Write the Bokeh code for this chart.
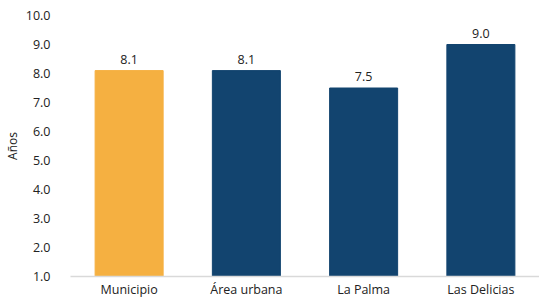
from bokeh.plotting import figure
from bokeh.models import ColumnDataSource, Range1d, SingleIntervalTicker, CustomJSTickFormatter
from bokeh.core.properties import value
from bokeh.embed import file_html
from bokeh.resources import INLINE

categories = ["Municipio", "Área urbana", "La Palma", "Las Delicias"]
values = [8.1, 8.1, 7.5, 9.0]
colors = ["#F5B041", "#12446F", "#12446F", "#12446F"]
labels = [f"{v:.1f}" for v in values]

FONT = "Open Sans"
src = ColumnDataSource(dict(cat=categories, val=values, color=colors, lab=labels))

p = figure(x_range=categories, width=539, height=300, output_backend="svg",
           toolbar_location=None, min_border_left=60, min_border_right=0,
           min_border_top=15, min_border_bottom=0)
p.y_range = Range1d(1.0, 10.0)
p.vbar(x="cat", top="val", bottom=1.0, width=0.58, color="color", source=src)
p.text(x="cat", y="val", text="lab", source=src, text_align="center",
       text_baseline="bottom", y_offset=-7, text_font=value(FONT),
       text_font_size="12.5px", text_color="#222222")

p.outline_line_color = None
p.xgrid.grid_line_color = None
p.ygrid.grid_line_color = None
p.background_fill_color = "white"
p.border_fill_color = "white"

p.yaxis.ticker = SingleIntervalTicker(interval=1.0)
p.yaxis.formatter = CustomJSTickFormatter(code="return tick.toFixed(1);")
p.yaxis.axis_line_color = None
p.yaxis.major_tick_line_color = None
p.yaxis.minor_tick_line_color = None
p.yaxis.major_label_standoff = 14
p.yaxis.axis_label = "Años"
p.yaxis.axis_label_standoff = 2
p.yaxis.axis_label_text_font = FONT
p.yaxis.axis_label_text_font_style = "normal"
p.yaxis.axis_label_text_font_size = "12px"
p.yaxis.axis_label_text_color = "#222222"

p.xaxis.axis_line_color = "#d9d9d9"
p.xaxis.axis_line_width = 1.5
p.xaxis.major_tick_line_color = None
p.xaxis.minor_tick_line_color = None
p.xaxis.major_label_standoff = -2

for ax in (p.xaxis, p.yaxis):
    ax.major_label_text_font = FONT
    ax.major_label_text_font_size = "12.5px"
    ax.major_label_text_color = "#222222"

open("out.html", "w").write(file_html(p, INLINE))
